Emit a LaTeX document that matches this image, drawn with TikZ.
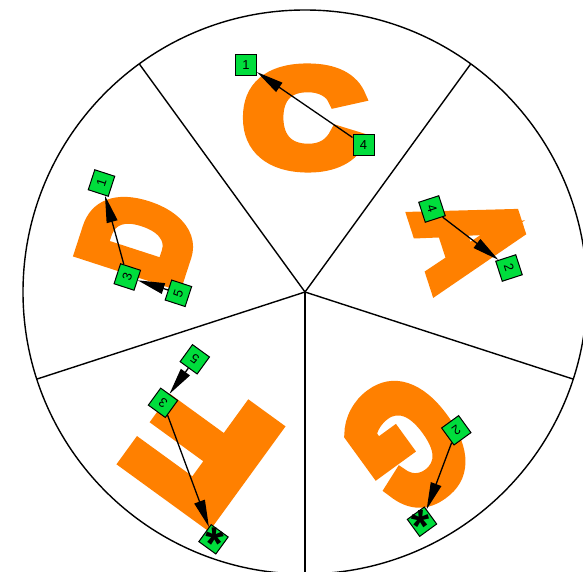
\documentclass[tikz,border=0pt]{standalone}
\usepackage{fontspec}
\usetikzlibrary{arrows.meta}
\newfontfamily\letterfont{Liberation Sans Bold}[FakeBold=10]
\newfontfamily\boxfont{Liberation Sans}
\newfontfamily\starfont{Liberation Sans Bold}
\definecolor{letterorange}{RGB}{255,128,0}
\definecolor{boxgreen}{RGB}{0,221,60}
\newcommand\boxstar{{\starfont\fontsize{46}{46}\selectfont\raisebox{-0.56em}[0pt][0pt]{*}}}
\begin{document}
\begin{tikzpicture}[x=1pt,y=-1pt,
  letter/.style={text=letterorange, inner sep=0pt, font=\letterfont\fontsize{150}{150}\selectfont},
  box/.style={draw=black, line width=1pt, fill=boxgreen, minimum size=21pt, inner sep=0pt, font=\boxfont\fontsize{13}{13}\selectfont},
  arr/.style={line width=1.3pt, -{Triangle[length=27pt,width=11pt]}},
  rim/.style={line width=1.4pt}]
\useasboundingbox (0,0) rectangle (583,572);
\clip (0,0) rectangle (583,572);
\fill[white] (0,0) rectangle (583,572);
\coordinate (O) at (305,292);
\coordinate (P1) at (139.24,63.86);
\coordinate (P2) at (470.76,63.86);
\coordinate (P3) at (573.2,379.1);
\coordinate (P4) at (305,574);
\coordinate (P5) at (36.8,379.1);
\draw[rim] (O) circle[radius=282pt];
\foreach \p in {P1,P2,P3,P4,P5} \draw[rim] (O) -- (\p);
% letters
\node[letter, xscale=1.10, yscale=0.90] (LC) at (304,118) {C};
\node[letter, rotate=-72, xscale=0.74, yscale=0.915] (LA) at (470.7,238.3) {A};
\node[letter, rotate=-144, xscale=0.83, yscale=1.1] (LG) at (407,444) {G};
\node[letter, rotate=144, xscale=1.256, yscale=1.10] (LF) at (203.3,447) {F};
\node[letter, rotate=72, xscale=0.71, yscale=0.956] (LD) at (138,239) {D};
% boxes
\node[box] (C1) at (246,64.6) {1};
\node[box] (C4) at (363.5,145) {4};
\node[box, rotate=-72] (A4) at (432,209) {4};
\node[box, rotate=-72] (A2) at (509,268) {2};
\node[box, rotate=72] (D1) at (101.5,183) {1};
\node[box, rotate=72] (D3) at (127.3,277) {3};
\node[box, rotate=72] (D5) at (178.4,293.3) {5};
\node[box, rotate=144] (F5) at (194.8,359.3) {5};
\node[box, rotate=144] (F3) at (163,402.8) {3};
\node[box, rotate=144] (Fs) at (213.5,539.3) {\boxstar};
\node[box, rotate=-144] (G2) at (456.3,430.3) {2};
\node[box, rotate=-144] (Gs) at (422,521.7) {\boxstar};
% arrows
\draw[arr] (C4) -- (C1);
\draw[arr] (A4) -- (A2);
\draw[arr] (D3) -- (D1);
\draw[arr] (D5) -- (D3);
\draw[arr] (F5) -- (F3);
\draw[arr] (F3) -- (Fs);
\draw[arr] (G2) -- (Gs);
\end{tikzpicture}
\end{document}
